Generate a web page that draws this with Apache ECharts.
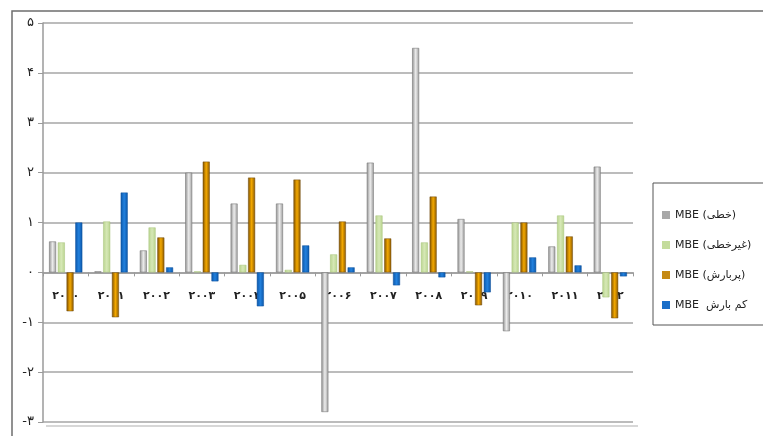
<!DOCTYPE html>
<html>
<head>
<meta charset="utf-8">
<script src="https://cdn.jsdelivr.net/npm/echarts@6/dist/echarts.min.js"></script>
<style>html,body{margin:0;padding:0;background:#fff}#c{width:763px;height:436px}</style>
</head>
<body>
<div id="c"></div>
<script>
var categories = ['۲۰۰۰','۲۰۰۱','۲۰۰۲','۲۰۰۳','۲۰۰۴','۲۰۰۵','۲۰۰۶','۲۰۰۷','۲۰۰۸','۲۰۰۹','۲۰۱۰','۲۰۱۱','۲۰۱۲'];
var seriesNames = ['MBE (خطی)','MBE (غیرخطی)','MBE (پربارش)','MBE  کم بارش'];
var linearMBE   = [0.62, 0.02, 0.44, 2.0, 1.38, 1.38, -2.8, 2.2, 4.5, 1.07, -1.18, 0.52, 2.12];
var nonlinMBE   = [0.6, 1.02, 0.9, 0.02, 0.15, 0.05, 0.36, 1.14, 0.6, 0.02, 1.0, 1.14, -0.5];
var wetMBE      = [-0.78, -0.9, 0.7, 2.22, 1.9, 1.86, 1.02, 0.68, 1.52, -0.66, 1.0, 0.72, -0.92];
var dryMBE      = [1.0, 1.6, 0.1, -0.18, -0.68, 0.54, 0.1, -0.26, -0.1, -0.4, 0.3, 0.14, -0.08];
var yTickValues = [-3, -2, -1, 0, 1, 2, 3, 4, 5];
var yTickLabels = ['-۳','-۲','-۱','۰','۱','۲','۳','۴','۵'];

var FONT = "'DejaVu Sans', sans-serif";
var GRID_TOP = 23, GRID_BOTTOM = 14, H = 436;
var Y_MIN = -3, Y_MAX = 5;
var plotH = H - GRID_TOP - GRID_BOTTOM;
var zeroOffset = -plotH * (0 - Y_MIN) / (Y_MAX - Y_MIN);

function hgrad(a, b, c) {
  return new echarts.graphic.LinearGradient(0, 0, 1, 0, [
    {offset: 0, color: a}, {offset: 0.5, color: b}, {offset: 1, color: c}
  ]);
}
var styles = [
  {color: hgrad('#8e8e8e', '#ececec', '#9c9c9c'), borderColor: '#7a7a7a', borderWidth: 0.6, legend: '#a8a8a8'},
  {color: hgrad('#b9d48e', '#d6e8b6', '#b9d48e'), borderColor: '#a6c27a', borderWidth: 0.5, legend: '#c4dc9c'},
  {color: hgrad('#7d4f00', '#f4a900', '#8a5800'), borderColor: '#6e4a10', borderWidth: 0.5, legend: '#c58a14'},
  {color: hgrad('#0c56a8', '#2281de', '#0c56a8'), borderColor: '#0b4f9a', borderWidth: 0.5, legend: '#1a6ec8'}
];
var dataSets = [linearMBE, nonlinMBE, wetMBE, dryMBE];

var chart = echarts.init(document.getElementById('c'), null, {renderer: 'canvas'});
chart.setOption({
  animation: false,
  backgroundColor: '#fff',
  textStyle: {fontFamily: FONT},
  grid: {left: 43, right: 130, top: GRID_TOP, bottom: GRID_BOTTOM, containLabel: false, outerBoundsMode: 'none'},
  legend: {
    orient: 'vertical', left: 657, top: 203,
    itemWidth: 8, itemHeight: 8, itemGap: 16,
    icon: 'rect',
    textStyle: {fontSize: 11, color: '#222', fontFamily: FONT, lineHeight: 14},
    data: seriesNames.map(function (n, i) { return {name: n, itemStyle: {color: styles[i].legend, borderWidth: 0}}; })
  },
  xAxis: {
    type: 'category', data: categories, position: 'bottom', offset: zeroOffset,
    axisLine: {onZero: false, lineStyle: {color: '#9a9a9a', width: 1.5}},
    axisTick: {show: true, length: 4, lineStyle: {color: '#9a9a9a'}},
    axisLabel: {margin: 18, fontSize: 11, fontWeight: 'bold', color: '#222', fontFamily: FONT},
    splitLine: {show: false}
  },
  yAxis: {
    type: 'value', min: Y_MIN, max: Y_MAX, interval: 1,
    axisLine: {show: true, lineStyle: {color: '#9a9a9a', width: 1.5}},
    axisTick: {show: true, length: 5, lineStyle: {color: '#9a9a9a'}},
    axisLabel: {margin: 9, fontSize: 13, color: '#222', fontFamily: FONT,
      formatter: function (v) { var i = yTickValues.indexOf(v); return i >= 0 ? yTickLabels[i] : ''; }},
    splitLine: {show: true, lineStyle: {color: '#a6a6a6', width: 1.5}}
  },
  graphic: [
    {type: 'rect', shape: {x: 12, y: 11, width: 800, height: 500}, style: {fill: 'none', stroke: '#6e6e6e', lineWidth: 1.5}, silent: true},
    {type: 'rect', shape: {x: 653, y: 183, width: 200, height: 142}, style: {fill: 'none', stroke: '#555', lineWidth: 1}, silent: true},
    {type: 'line', shape: {x1: 46, y1: 426, x2: 638, y2: 426}, style: {stroke: '#b0b0b0', lineWidth: 1.2}, silent: true}
  ],
  series: dataSets.map(function (d, i) {
    return {
      name: seriesNames[i], type: 'bar', data: d,
      barWidth: 7, barGap: '25%',
      itemStyle: {color: styles[i].color, borderColor: styles[i].borderColor, borderWidth: styles[i].borderWidth}
    };
  })
});
</script>
</body>
</html>
